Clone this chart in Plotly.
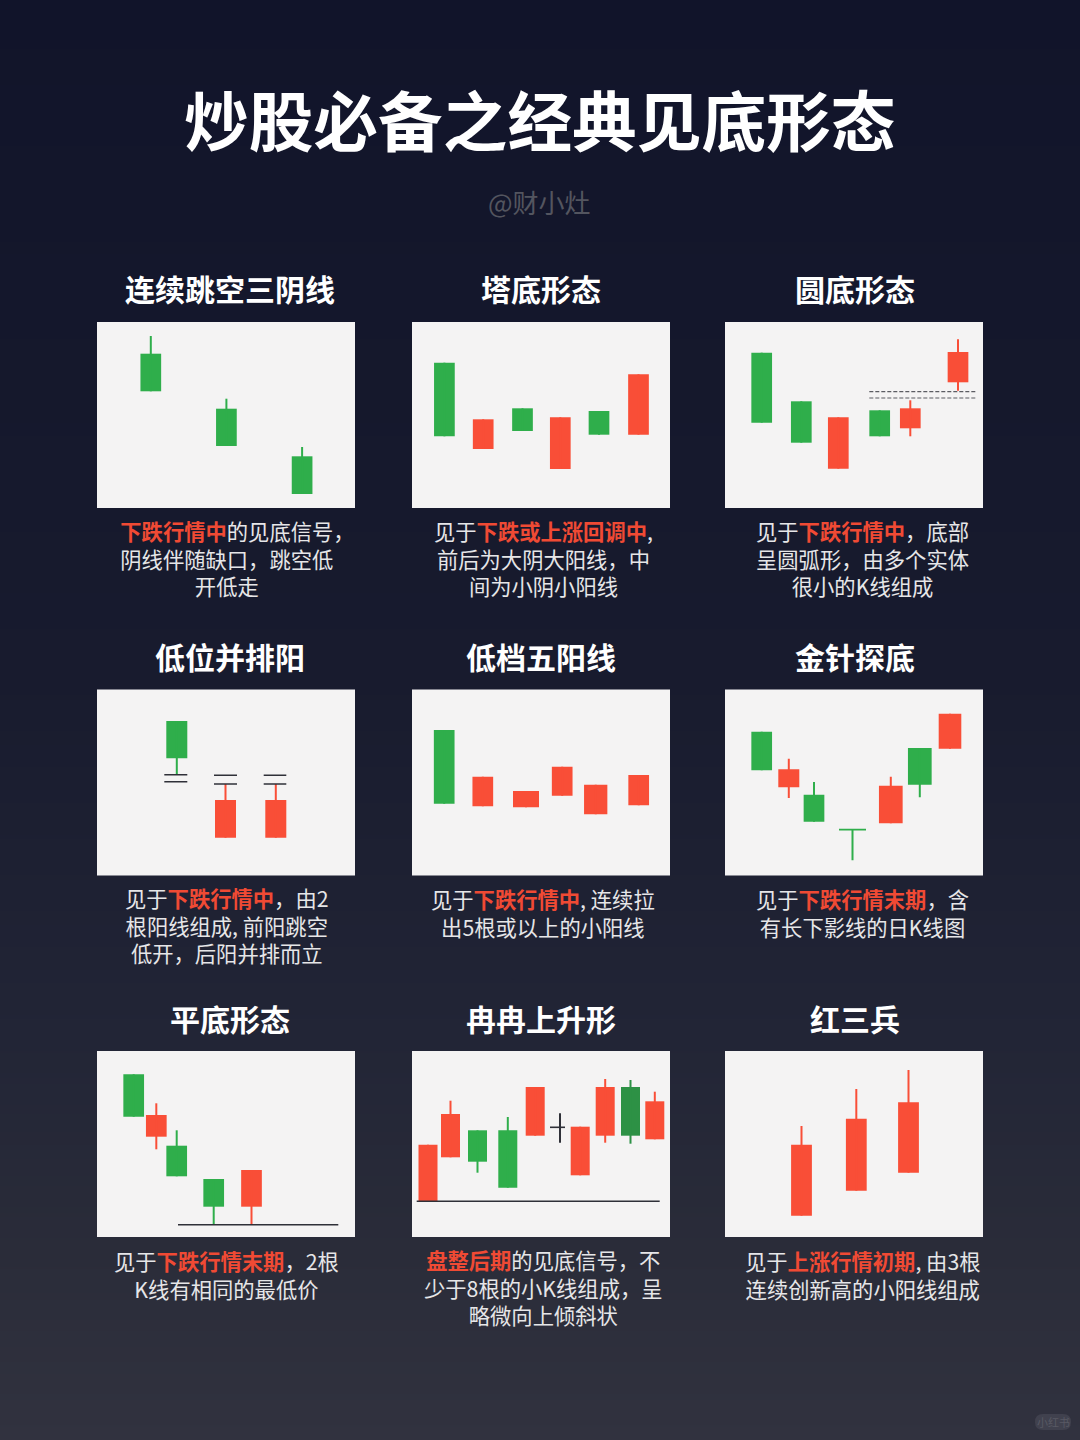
import plotly.graph_objects as go

# k线数据: 横轴是面板内的位置, 纵轴是价格, 红涨绿跌
P1_X = [53.8, 129.4, 205.1]
P1_OPEN = [154.3, 99.3, 51.7]
P1_CLOSE = [116.7, 62, 14]
P1_HIGH = [172, 109.3, 61]
P1_LOW = [116.7, 62, 14]

P2_X = [32.4, 71.2, 110.5, 148.3, 187, 226.5]
P2_OPEN = [145.3, 59, 99.7, 39, 97, 73.3]
P2_CLOSE = [71.7, 88.7, 77, 90.7, 73.3, 133.7]
P2_HIGH = [145.3, 88.7, 99.7, 90.7, 97, 133.7]
P2_LOW = [71.7, 59, 77, 39, 73.3, 73.3]

P3_X = [36.7, 76.3, 113.3, 154.7, 185.3, 233]
P3_OPEN = [155.3, 106.7, 39.3, 97.7, 79.7, 125.7]
P3_CLOSE = [85.3, 65.3, 90.7, 71.7, 99.7, 156]
P3_HIGH = [155.3, 106.7, 90.7, 97.7, 107.7, 168.7]
P3_LOW = [85.3, 65.3, 39.3, 71.7, 71.7, 117.3]

P4_X = [79.8, 128.5, 178.8]
P4_OPEN = [154.5, 37.8, 37.8]
P4_CLOSE = [117.2, 75.5, 75.5]
P4_HIGH = [154.5, 91.5, 91.5]
P4_LOW = [101.2, 37.8, 37.8]

P5_X = [32.2, 70.8, 114, 150.2, 183.7, 226.7]
P5_OPEN = [145.5, 69.2, 68.2, 79.8, 61.2, 70.2]
P5_CLOSE = [71.8, 98.8, 84.5, 108.8, 90.8, 100.5]
P5_HIGH = [145.5, 98.8, 84.5, 108.8, 90.8, 100.5]
P5_LOW = [71.8, 69.2, 68.2, 79.8, 61.2, 70.2]

P6_X = [36.7, 63.8, 89, 127.5, 165.8, 194.8, 225]
P6_OPEN = [143.8, 88.2, 80.8, 45.8, 52.2, 127.5, 126.8]
P6_CLOSE = [105.2, 106.2, 53.8, 45.8, 89.8, 90.8, 161.8]
P6_HIGH = [143.8, 116.8, 93.5, 45.8, 98.8, 127.5, 161.8]
P6_LOW = [105.2, 77.5, 53.8, 15.2, 52.2, 78.2, 126.8]

P7_X = [36.7, 59.3, 79.7, 116.7, 154.5]
P7_OPEN = [162.7, 100.3, 91.3, 58, 30.3]
P7_CLOSE = [120.3, 122, 60.7, 30.3, 67]
P7_HIGH = [162.7, 133.7, 106.7, 58, 67]
P7_LOW = [120.3, 87.7, 60.7, 12.7, 12.7]

P8_X = [16, 38.5, 65.5, 95.8, 123.2, 148, 168.2, 193.2, 218.5, 242.8]
P8_OPEN = [35.7, 79.7, 106.7, 106.7, 101.3, 109.7, 61.7, 101.3, 150, 97.7]
P8_CLOSE = [92.3, 123, 75.3, 49.3, 150, 109.7, 110.3, 150, 101.3, 135.7]
P8_HIGH = [92.3, 136.3, 106.7, 120, 150, 123.7, 110.3, 158, 157, 145.3]
P8_LOW = [35.7, 79.7, 64.3, 49.3, 101.3, 94.3, 61.7, 94.3, 93.3, 97.7]

P9_X = [76.5, 131.3, 183.5]
P9_OPEN = [21.3, 46.3, 64.3]
P9_CLOSE = [92.3, 118.3, 134.7]
P9_HIGH = [111, 148, 167]
P9_LOW = [21.3, 46.3, 64.3]

# 水平参考线: 起点, 终点, 价格
P3_DASHES = [(144.3, 251, 116.3), (144.3, 251, 110)]
P4_LEVELS = [(67.3, 90.3, 100.8), (67.3, 90.3, 93.8), (117, 140, 100.2),
             (117, 140, 91.5), (166.7, 189.3, 100.2), (166.7, 189.3, 91.5)]
P6_T_BAR = [(114, 141, 45.8)]
P7_LEVELS = [(81, 241.3, 12.3)]
P8_LEVELS = [(4.7, 247.7, 35.7), (138, 153, 109.7)]

MAIN_TITLE = "炒股必备之经典见底形态"
SUBTITLE = "@财小灶"
TITLES = ["连续跳空三阴线", "塔底形态", "圆底形态",
          "低位并排阳", "低档五阳线", "金针探底",
          "平底形态", "冉冉上升形", "红三兵"]
# [] 里的字标红, 第一行开头的全角空格让它和第二行左对齐
DESCS = [
    ["\u3000[下跌行情中]的见底信号，", "阴线伴随缺口，跳空低", "开低走"],
    ["见于[下跌或上涨回调中],", "前后为大阴大阳线，中", "间为小阴小阳线"],
    ["见于[下跌行情中]，底部", "呈圆弧形，由多个实体", "很小的K线组成"],
    ["见于[下跌行情中]，由2", "根阳线组成, 前阳跳空", "低开，后阳并排而立"],
    ["见于[下跌行情中], 连续拉", "出5根或以上的小阳线"],
    ["见于[下跌行情末期]，含", "有长下影线的日K线图"],
    ["见于[下跌行情末期]，2根", "K线有相同的最低价"],
    ["[盘整后期]的见底信号，不", "少于8根的小K线组成，呈", "略微向上倾斜状"],
    ["见于[上涨行情初期], 由3根", "连续创新高的小阳线组成"],
]

RED = "#f94e37"
GREEN = "#2fae4b"
DARK_GREEN = "#2d9145"
INK = "#2f3038"
HIGHLIGHT = "#f04a34"
FONT = "Noto Sans CJK SC"

W, H = 1080, 1440
PANEL_W, PANEL_H = 258, 186
COL_LEFT = [97, 412, 725]
ROW_TOP = [322, 689.5, 1051]
TITLE_X = [229.5, 541, 854.5]
TITLE_Y = [288, 656, 1018]
DESC_X = [226.5, 543, 862.5]
DESC_Y = [532, 899, 1261]
DESC_STEP = 26

panels = [
    dict(x=P1_X, o=P1_OPEN, c=P1_CLOSE, h=P1_HIGH, l=P1_LOW, w=[20.7] * 3),
    dict(x=P2_X, o=P2_OPEN, c=P2_CLOSE, h=P2_HIGH, l=P2_LOW, w=[20.7] * 6),
    dict(x=P3_X, o=P3_OPEN, c=P3_CLOSE, h=P3_HIGH, l=P3_LOW, w=[20.7] * 6, dashes=P3_DASHES),
    dict(x=P4_X, o=P4_OPEN, c=P4_CLOSE, h=P4_HIGH, l=P4_LOW, w=[21] * 3, levels=P4_LEVELS),
    dict(x=P5_X, o=P5_OPEN, c=P5_CLOSE, h=P5_HIGH, l=P5_LOW, w=[20.7, 20.7, 26, 20.7, 23.3, 20.7]),
    dict(x=P6_X, o=P6_OPEN, c=P6_CLOSE, h=P6_HIGH, l=P6_LOW, w=[20.7, 21, 20.7, 0, 23.7, 23.7, 22.6],
         green_levels=P6_T_BAR),
    dict(x=P7_X, o=P7_OPEN, c=P7_CLOSE, h=P7_HIGH, l=P7_LOW, w=[20.7] * 5, levels=P7_LEVELS),
    dict(x=P8_X, o=P8_OPEN, c=P8_CLOSE, h=P8_HIGH, l=P8_LOW, w=[19] * 10, levels=P8_LEVELS,
         colors={5: INK, 8: DARK_GREEN}),
    dict(x=P9_X, o=P9_OPEN, c=P9_CLOSE, h=P9_HIGH, l=P9_LOW, w=[20.8] * 3),
]


def px(x):
    return x / W


def py(y):
    return 1 - y / H


def markup(text):
    return text.replace("[", f'<span style="color:{HIGHLIGHT}"><b>').replace("]", "</b></span>")


def add_hlines(fig, rows, color, width, axis, dash="solid"):
    for x0, x1, y in rows:
        fig.add_trace(go.Scatter(x=[x0, x1], y=[y, y], mode="lines", xaxis=axis[0], yaxis=axis[1],
                                 line=dict(color=color, width=width, dash=dash), hoverinfo="skip"))


fig = go.Figure()

# 背景渐变
fig.add_trace(go.Heatmap(
    x=[0, 1], y=[0, H], z=[[0, 0], [1, 1]], zsmooth="best", showscale=False, hoverinfo="skip",
    colorscale=[[0, "#11142a"], [0.47, "#181b2e"], [0.72, "#222536"], [0.87, "#2a2c39"], [1, "#31323f"]],
))

layout_axes = {
    "xaxis": dict(domain=[0, 1], range=[0, 1], visible=False, fixedrange=True),
    "yaxis": dict(domain=[0, 1], range=[H, 0], visible=False, fixedrange=True),
}
annotations = []


def add_text(text, x, y, size, color, bold=False):
    annotations.append(dict(
        text=f"<b>{text}</b>" if bold else text, x=px(x), y=py(y), xref="paper", yref="paper",
        xanchor="center", yanchor="middle", showarrow=False,
        font=dict(family=FONT, size=size, color=color),
    ))


for i, p in enumerate(panels):
    col, row = i % 3, i // 3
    n = i + 2
    axis = (f"x{n}", f"y{n}")
    left, top = COL_LEFT[col], ROW_TOP[row]
    layout_axes[f"xaxis{n}"] = dict(domain=[px(left), px(left + PANEL_W)], range=[0, PANEL_W],
                                    visible=False, fixedrange=True)
    layout_axes[f"yaxis{n}"] = dict(domain=[py(top + PANEL_H), py(top)], range=[0, PANEL_H],
                                    visible=False, fixedrange=True)

    colors = [RED if c > o else GREEN for o, c in zip(p["o"], p["c"])]
    for k, v in p.get("colors", {}).items():
        colors[k] = v

    # 实体
    fig.add_trace(go.Bar(
        x=p["x"], y=[abs(c - o) for o, c in zip(p["o"], p["c"])], base=[min(o, c) for o, c in zip(p["o"], p["c"])],
        width=p["w"], marker=dict(color=colors, line_width=0), xaxis=axis[0], yaxis=axis[1], hoverinfo="skip",
    ))

    # 影线
    for color in set(colors):
        xs, ys = [], []
        for j, cl in enumerate(colors):
            if cl == color:
                xs += [p["x"][j], p["x"][j], None]
                ys += [p["l"][j], p["h"][j], None]
        fig.add_trace(go.Scatter(x=xs, y=ys, mode="lines", xaxis=axis[0], yaxis=axis[1],
                                 line=dict(color=color, width=2), hoverinfo="skip"))

    add_hlines(fig, p.get("levels", []), INK, 1.6, axis)
    add_hlines(fig, p.get("green_levels", []), GREEN, 1.8, axis)
    add_hlines(fig, p.get("dashes", []), "#5b5c62", 1.2, axis, dash="4px,2px")

    add_text(TITLES[i], TITLE_X[col], TITLE_Y[row], 30, "#ffffff", bold=True)
    lines = DESCS[i]
    mid = DESC_Y[row] + (len(lines) - 1) * DESC_STEP / 2
    add_text(markup("<br>".join(lines)), DESC_X[col], mid, 21.3, "#e6e6e8")

add_text(MAIN_TITLE, 540, 118, 64.7, "#ffffff", bold=True)
add_text(SUBTITLE, 539.5, 201, 26, "#53555f")
add_text("小红书", 1053, 1421.5, 11, "#585964")

# 右下角水印底
x0, x1, y0, y1, r = px(1035), px(1071), py(1414), py(1430), 8
rx, ry = r / W, r / H
pill = (f"M {x0 + rx} {y0} L {x1 - rx} {y0} Q {x1} {y0} {x1} {y0 - ry} Q {x1} {y1} {x1 - rx} {y1} "
        f"L {x0 + rx} {y1} Q {x0} {y1} {x0} {y0 - ry} Q {x0} {y0} {x0 + rx} {y0} Z")

fig.update_layout(
    width=W, height=H,
    margin=dict(l=0, r=0, t=0, b=0),
    paper_bgcolor="#11142a",
    plot_bgcolor="#f4f3f3",
    showlegend=False,
    barmode="overlay",
    annotations=annotations,
    shapes=[dict(type="path", path=pill, xref="paper", yref="paper", fillcolor="#40414e", line_width=0, layer="above")],
    **layout_axes,
)

# 页面默认有8px边距, 去掉才能铺满窗口
fig.write_html("out.html", config={"displayModeBar": False},
               post_script="document.body.style.margin='0';document.documentElement.style.overflow='hidden';")
